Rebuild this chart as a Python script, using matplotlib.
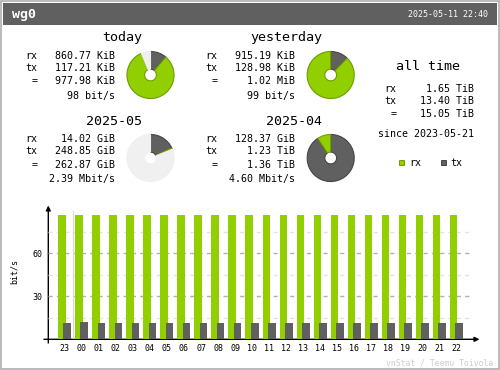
import numpy as np
import matplotlib

matplotlib.use('Agg')
import matplotlib.pyplot as plt
from matplotlib.patches import Rectangle

W, H = 500, 370
MONO = 'DejaVu Sans Mono'

RX = '#92cf00'
RX_EDGE = '#6f9c00'
TX = '#606060'
TX_EDGE = '#464646'
EMPTY = '#f0f0f0'

interface = "wg0"
updated = "2025-05-11 22:40"

# day summaries (KiB)
day_titles = ["today", "yesterday"]
day_rx = [860.77, 915.19]
day_tx = [117.21, 128.98]
day_lines = [["860.77 KiB", "117.21 KiB", "977.98 KiB", "98 bit/s"],
             ["915.19 KiB", "128.98 KiB", "1.02 MiB", "99 bit/s"]]

# month summaries (GiB)
month_titles = ["2025-05", "2025-04"]
month_rx = [14.02, 128.37]
month_tx = [248.85, 1259.52]
month_lines = [["14.02 GiB", "248.85 GiB", "262.87 GiB", "2.39 Mbit/s"],
               ["128.37 GiB", "1.23 TiB", "1.36 TiB", "4.60 Mbit/s"]]

alltime_lines = ["1.65 TiB", "13.40 TiB", "15.05 TiB"]
since = "since 2023-05-21"

# hourly rates (bit/s)
hours = ["23", "00", "01", "02", "03", "04", "05", "06", "07", "08", "09", "10",
         "11", "12", "13", "14", "15", "16", "17", "18", "19", "20", "21", "22"]
rx_rate = [86.5, 86.5, 86.5, 86.5, 86.5, 86.5, 86.5, 86.5, 86.5, 86.5, 86.5, 86.5,
           86.5, 86.5, 86.5, 86.5, 86.5, 86.5, 86.5, 86.5, 86.5, 86.5, 86.5, 86.5]
tx_rate = [11.2, 11.9, 11.2, 11.2, 11.2, 11.2, 11.2, 11.2, 11.2, 11.2, 11.2, 11.2,
           11.2, 11.2, 11.2, 11.2, 11.2, 11.2, 11.2, 11.2, 11.2, 11.2, 11.2, 11.2]
y_ticks = [30, 60]
grid_minor = [15, 45, 75]


def txt(ax, x, y, s, size=7.2, ha='left', va='baseline', **kw):
    ax.text(x, y, s, fontsize=size, ha=ha, va=va, family=MONO, **kw)


def draw_pie(fig, cx, cy, tx, rx, scale, r=24):
    ax = fig.add_axes([(cx - r) / W, 1 - (cy + r) / H, 2 * r / W, 2 * r / H])
    vals = [tx, rx, max(scale - tx - rx, 0)]
    cols = [TX, RX, EMPTY]
    edges = [TX_EDGE, RX_EDGE, EMPTY]
    keep = [i for i, v in enumerate(vals) if v > 0]
    wedges, _ = ax.pie([vals[i] for i in keep], colors=[cols[i] for i in keep],
                       startangle=90, counterclock=False, radius=1,
                       wedgeprops=dict(width=0.75, linewidth=0.8))
    for w, i in zip(wedges, keep):
        w.set_edgecolor(edges[i])
    ax.set_xlim(-1.02, 1.02)
    ax.set_ylim(-1.02, 1.02)
    ax.axis('off')


fig = plt.figure(figsize=(W / 100, H / 100), dpi=100)
bg = fig.add_axes([0, 0, 1, 1])
bg.set_xlim(0, W)
bg.set_ylim(H, 0)
bg.axis('off')

# frame + header
bg.add_patch(Rectangle((0.5, 0.5), W - 1.5, H - 1.5, fill=False, edgecolor='#aeaeae', lw=1.2))
bg.add_patch(Rectangle((3, 3), 494, 22, facecolor=TX, edgecolor='none'))
txt(bg, 12, 17.7, interface, size=9.5, color='white', weight='bold')
txt(bg, 488, 17, updated, size=6, ha='right', color='white')

# day + month blocks
day_title_x = [122, 286.5]
month_title_x = [114, 294]
label_right = [37.5, 217.5]
value_right = [115, 295]
pie_x = [150.5, 330.7]
day_base = [59, 71, 84.3, 99]
month_base = [142.3, 154.3, 167.7, 182.3]
row_labels = ["rx", "tx", "="]

day_scale = max(r + t for r, t in zip(day_rx, day_tx))
month_scale = max(r + t for r, t in zip(month_rx, month_tx))

for k in range(2):
    txt(bg, day_title_x[k], 41, day_titles[k], size=9.6, ha='center')
    txt(bg, month_title_x[k], 125, month_titles[k], size=9.6, ha='center')
    for j in range(3):
        txt(bg, label_right[k], day_base[j], row_labels[j], ha='right')
        txt(bg, label_right[k], month_base[j], row_labels[j], ha='right')
    for j in range(4):
        txt(bg, value_right[k], day_base[j], day_lines[k][j], ha='right')
        txt(bg, value_right[k], month_base[j], month_lines[k][j], ha='right')
    draw_pie(fig, pie_x[k], 75, day_tx[k], day_rx[k], day_scale)
    draw_pie(fig, pie_x[k], 158, month_tx[k], month_rx[k], month_scale)

# all time block
txt(bg, 428.5, 70, "all time", size=9.6, ha='center')
at_base = [91.7, 104, 117.3]
for j in range(3):
    txt(bg, 396.5, at_base[j], row_labels[j], ha='right')
    txt(bg, 474, at_base[j], alltime_lines[j], ha='right')
txt(bg, 426, 137.3, since, ha='center')

bg.add_patch(Rectangle((398.5, 159.5), 5.5, 5.5, facecolor=RX, edgecolor=RX_EDGE, lw=0.7))
txt(bg, 409, 165.5, "rx")
bg.add_patch(Rectangle((440.5, 159.5), 5.5, 5.5, facecolor=TX, edgecolor=TX_EDGE, lw=0.7))
txt(bg, 450, 165.5, "tx")

# hourly chart
x0, x_step = 64.7, 17.04
px_per_unit = 1.4333
ax = fig.add_axes([48 / W, 1 - 339 / H, (478 - 48) / W, (339 - 206) / H])
ax.patch.set_alpha(0)
left = (48 - x0) / x_step
ax.set_xlim(left, (478 - x0) / x_step)
ax.set_ylim(0, (339 - 206) / px_per_unit)
for s in ax.spines.values():
    s.set_visible(False)

x = np.arange(len(hours))
grid_end = (472 - x0) / x_step
ax.hlines(grid_minor, left, grid_end, colors='#e2e2e2', lw=1, linestyles=(0, (3, 3)), zorder=1)
ax.hlines(y_ticks, left, grid_end, colors='#b0b0b0', lw=1, linestyles=(0, (3, 3)), zorder=1)
ax.vlines([0.5], 0, (339 - 210) / px_per_unit, colors='#dcdcdc', lw=1, zorder=1)

ax.bar(x - 0.17, rx_rate, width=0.44, color=RX, zorder=2)
ax.bar(x + 0.15, tx_rate, width=0.45, color=TX, zorder=3)

ax.set_xticks(x)
ax.set_xticklabels(hours, family=MONO, fontsize=6)
ax.set_yticks(y_ticks)
ax.set_yticklabels([str(v) for v in y_ticks], family=MONO, fontsize=6)
ax.tick_params(length=0)
ax.tick_params(axis='x', pad=3.3)
ax.tick_params(axis='y', pad=4.1)

bg.annotate('', xy=(48.3, 205.5), xytext=(48.3, 343),
            arrowprops=dict(arrowstyle='-|>', color='black', lw=1, mutation_scale=7,
                            shrinkA=0, shrinkB=0))
bg.annotate('', xy=(479.5, 339.3), xytext=(44, 339.3),
            arrowprops=dict(arrowstyle='-|>', color='black', lw=1, mutation_scale=7,
                            shrinkA=0, shrinkB=0))

bg.text(14.5, 272, "bit/s", fontsize=6, family=MONO, rotation=90, ha='center', va='center')
txt(bg, 493, 365, "vnStat / Teemu Toivola", size=5.9, ha='right', color='#cccccc')

fig.savefig("out.png", dpi=100)
plt.close(fig)
